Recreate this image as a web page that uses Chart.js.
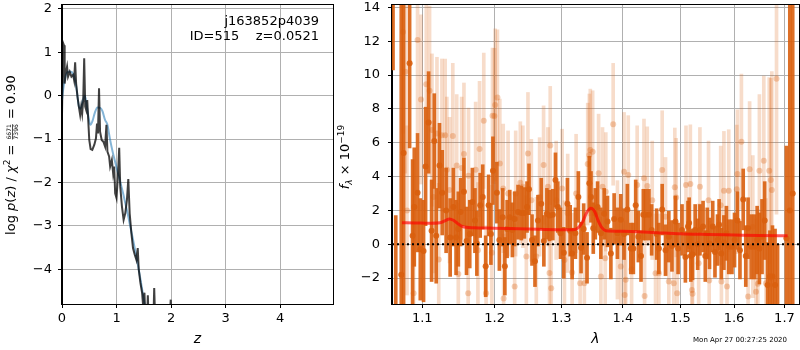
<!DOCTYPE html>
<html>
<head>
<meta charset="utf-8">
<script src="https://cdn.jsdelivr.net/npm/chart.js@4.4.0/dist/chart.umd.min.js"></script>
<style>
  body { margin: 0; background: #fff; }
  #wrap { position: relative; width: 800px; height: 350px; }
  #left { position: absolute; left: 0; top: 0; }
  #right { position: absolute; left: 330px; top: 0; }
</style>
</head>
<body>
<div id="wrap">
  <canvas id="left" width="340" height="350"></canvas>
  <canvas id="right" width="470" height="350"></canvas>
</div>
<script>
// ---- left panel: log p(z) ----
const zFit = [0.000, 0.019, 0.037, 0.049, 0.068, 0.093, 0.111, 0.142, 0.173, 0.204, 0.222, 0.241, 0.259, 0.284,
  0.309, 0.333, 0.352, 0.370, 0.389, 0.407, 0.426, 0.444, 0.463, 0.481, 0.500, 0.525, 0.556, 0.593, 0.623,
  0.642, 0.660, 0.679, 0.698, 0.728, 0.759, 0.790, 0.815, 0.833, 0.864, 0.883, 0.914, 0.938, 0.957, 0.975,
  1.000, 1.025, 1.049, 1.068, 1.099, 1.130, 1.160, 1.191, 1.216, 1.241, 1.272, 1.302, 1.333, 1.364, 1.389,
  1.407, 1.438, 1.469, 1.488, 1.512, 1.531, 1.556, 1.574, 1.593, 1.620, 1.660, 1.691, 1.716, 1.800, 1.900,
  1.994, 2.012, 2.100];
const pFit = [-0.44, 1.22, 1.16, 0.28, 0.51, 0.67, 0.44, 0.55, 0.44, 0.48, 0.36, 0.77, 0.28, -0.02,
  -0.25, -0.44, -0.25, -0.41, -0.10, 0.86, -0.25, -0.33, -0.10, -0.56, -1.02, -1.23, -1.25, -1.13, -0.98,
  -0.64, -0.87, 0.17, -0.83, -1.02, -1.06, -1.17, -0.67, -1.29, -1.40, -1.63, -1.48, -1.79, -1.63, -2.25,
  -2.36, -1.86, -1.20, -2.09, -2.55, -2.86, -2.71, -2.40, -1.92, -2.71, -3.16, -3.51, -3.66, -3.78, -3.51,
  -4.00, -4.31, -4.54, -4.85, -4.54, -5.20, -5.40, -4.60, -5.30, -6.00, -6.00, -4.43, -5.50, -7.00, -7.00,
  -4.70, -5.50, -8.00];
const zPrior = [0.00, 0.02, 0.06, 0.11, 0.16, 0.20, 0.24, 0.27, 0.31, 0.34, 0.38, 0.42, 0.45, 0.48, 0.52,
  0.56, 0.60, 0.65, 0.70, 0.74, 0.79, 0.83, 0.88, 0.93, 0.98, 1.03, 1.07, 1.12, 1.16, 1.21, 1.25, 1.30,
  1.35, 1.40, 1.44, 1.50, 1.55, 1.60];
const pPrior = [-0.10, 0.13, 0.42, 0.55, 0.55, 0.51, 0.35, 0.13, -0.25, -0.30, -0.12, 0.00, -0.20, -0.45,
  -0.67, -0.58, -0.40, -0.27, -0.28, -0.35, -0.56, -0.66, -1.00, -1.30, -1.55, -1.80, -2.00, -2.25, -2.47,
  -2.75, -3.00, -3.30, -3.62, -3.95, -4.24, -4.70, -5.10, -5.50];

// ---- right panel: spectrum ----
const lamData = [1.0620, 1.0655, 1.0726, 1.0756, 1.0834, 1.0873, 1.0895, 1.0938, 1.0974, 1.1017, 1.1044,
  1.1084, 1.1124, 1.1160, 1.1186, 1.1230, 1.1267, 1.1320, 1.1375, 1.1419, 1.1456, 1.1487, 1.1519, 1.1565,
  1.1601, 1.1646, 1.1683, 1.1719, 1.1746, 1.1793, 1.1829, 1.1871, 1.1913, 1.1946, 1.1975, 1.2032, 1.2068,
  1.2116, 1.2148, 1.2181, 1.2220, 1.2258, 1.2292, 1.2342, 1.2392, 1.2436, 1.2476, 1.2506, 1.2551, 1.2596,
  1.2641, 1.2691, 1.2731, 1.2777, 1.2818, 1.2869, 1.2910, 1.2946, 1.2987, 1.3040, 1.3097, 1.3140, 1.3171,
  1.3223, 1.3270, 1.3313, 1.3355, 1.3409, 1.3446, 1.3473, 1.3510, 1.3543, 1.3580, 1.3634, 1.3688, 1.3743,
  1.3799, 1.3853, 1.3908, 1.3964, 1.4019, 1.4075, 1.4133, 1.4177, 1.4217, 1.4262, 1.4308, 1.4348, 1.4388,
  1.4445, 1.4492, 1.4579, 1.4618, 1.4677, 1.4736, 1.4794, 1.4850, 1.4913, 1.4960, 1.5031, 1.5092, 1.5139,
  1.5160, 1.5190, 1.5222, 1.5270, 1.5316, 1.5358, 1.5416, 1.5457, 1.5494, 1.5536, 1.5596, 1.5638, 1.5686,
  1.5716, 1.5758, 1.5807, 1.5855, 1.5899, 1.5960, 1.6010, 1.6066, 1.6115, 1.6178, 1.6228, 1.6273, 1.6336,
  1.6399, 1.6451, 1.6496, 1.6548, 1.6601, 1.6659, 1.6705, 1.6757, 1.6809, 1.6860, 1.7040, 1.7110, 1.7170];
const fluxData = [20.0, -8.0, -1.8, 5.4, 10.7, 0.5, 2.2, 3.05, -0.3, -0.4, 4.6,
  7.2, 0.8, 6.1, 0.5, 4.65, 3.05, 2.0, 0.4, 2.2, 0.4, 0.9, 1.9, 3.1,
  0.2, 0.6, 2.5, 1.4, 0.05, 2.3, 2.8, -1.3, 2.3, 0.6, 4.35, 3.05, 0.25,
  1.6, -1.3, 0.9, 1.6, 0.85, 1.5, 1.9, 1.85, 1.85, 2.2, 3.25, 0.25, -1.0,
  1.4, 2.4, 0.2, 1.8, 1.7, 1.75, 3.8, 2.2, 0.65, -0.5, 2.4, 0.8, -0.55,
  0.65, 2.8, -0.2, 0.9, -0.8, 3.6, 2.8, 0.95, 1.8, 2.2, 0.65, 1.8, 1.35,
  -0.55, 1.5, 0.65, 1.45, 0.6, 2.05, -0.25, -0.25, 2.3, 0.45, -0.7, 1.75, 1.75,
  1.75, 0.85, 0.6, -0.25, 2.05, -0.35, 0.45, -0.1, 1.35, -0.25, 0.85, -0.75, 1.05,
  1.25, -0.7, -0.6, 0.85, 0.0, 0.85, 1.05, -0.7, 0.65, 0.05, 1.05, -0.45, 0.25,
  1.15, -0.55, 0.1, 0.65, -0.15, -0.15, 0.25, 1.4, -0.35, 2.65, -0.7, 0.95, -0.15,
  -0.15, 0.25, -0.25, 0.45, 1.4, -2.4, -1.9, -1.9, -2.4, -4.0, 0.35, 2.0, 3.0];
const errData = [9.7, 9.7, 16, 9, 5, 4.5, 3.5, 3.5, 3, 3, 3.5,
  3, 3, 2.8, 2.8, 2.5, 2.5, 2.5, 2.3, 2.3, 2.2, 2.2, 2, 2,
  2, 2, 2, 1.9, 1.9, 1.9, 1.9, 1.8, 1.8, 1.8, 2, 1.8, 1.8,
  1.7, 1.7, 1.7, 1.6, 1.6, 1.6, 1.6, 1.6, 1.5, 1.5, 1.5, 1.5, 1.5,
  1.5, 1.5, 1.5, 1.5, 1.5, 1.5, 1.6, 1.5, 1.5, 1.5, 1.5, 1.5, 1.5,
  1.5, 1.5, 1.5, 1.5, 1.5, 1.6, 1.5, 1.5, 1.5, 1.5, 1.5, 1.5, 1.5,
  1.5, 1.5, 1.5, 1.5, 1.5, 1.5, 1.5, 1.5, 1.5, 1.5, 1.5, 1.5, 1.5,
  1.5, 1.5, 1.5, 1.5, 1.5, 1.5, 1.5, 1.5, 1.5, 1.5, 1.5, 1.5, 1.5,
  1.5, 1.5, 1.5, 1.5, 1.5, 1.5, 1.5, 1.5, 1.5, 1.5, 1.5, 1.5, 1.5,
  1.5, 1.5, 1.6, 1.6, 1.6, 1.6, 1.6, 1.7, 1.7, 1.8, 1.8, 1.8, 1.9,
  1.9, 2, 2.1, 2.2, 2.3, 2.5, 2.7, 3, 3.3, 4, 5.45, 20, 20];

const lamFaint = [1.0748, 1.0778, 1.0800, 1.0886, 1.0938, 1.0983, 1.1053, 1.1097, 1.1129, 1.1150, 1.1196,
  1.1220, 1.1263, 1.1307, 1.1330, 1.1366, 1.1411, 1.1465, 1.1487, 1.1533, 1.1565, 1.1624, 1.1629, 1.1729,
  1.1761, 1.1784, 1.1844, 1.1877, 1.1960, 1.1969, 1.1997, 1.2007, 1.2040, 1.2075, 1.2124, 1.2130, 1.2195,
  1.2292, 1.2307, 1.2376, 1.2414, 1.2466, 1.2490, 1.2541, 1.2616, 1.2666, 1.2727, 1.2793, 1.2818, 1.2829,
  1.2844, 1.2921, 1.3014, 1.3050, 1.3101, 1.3171, 1.3234, 1.3298, 1.3366, 1.3420, 1.3446, 1.3462, 1.3500,
  1.3597, 1.3634, 1.3661, 1.3705, 1.3715, 1.3837, 1.3908, 1.3964, 1.4019, 1.4030, 1.4047, 1.4090, 1.4147,
  1.4242, 1.4359, 1.4370, 1.4416, 1.4502, 1.4560, 1.4618, 1.4677, 1.4736, 1.4794, 1.4883, 1.4901, 1.4925,
  1.4943, 1.5103, 1.5182, 1.5211, 1.5222, 1.5334, 1.5358, 1.5518, 1.5530, 1.5746, 1.5760, 1.5807, 1.5866,
  1.5899, 1.6053, 1.6066, 1.6143, 1.6273, 1.6303, 1.6366, 1.6429, 1.6465, 1.6496, 1.6583, 1.6626, 1.6692,
  1.6724, 1.6744, 1.6839];
const fluxFaint = [12.55, 10.2, 2.0, -2.9, 12.07, 8.56, 9.45, 9.07, 6.75, 2.8, 6.55,
  -0.9, 6.45, 6.45, 4.4, 3.2, 6.4, 4.65, -1.75, 4.5, 5.33, -2.9, 4.05, 4.4,
  -0.35, 5.63, 7.3, -2.9, -0.5, 7.6, 7.58, 8.23, 8.68, 4.78, 3.3, -3.2, 3.0,
  -2.5, 3.0, 3.64, 3.4, -0.73, 5.37, 2.6, -0.73, 2.8, 4.68, 3.4, -1.7, 5.83,
  -2.6, 2.6, 3.3, -0.93, 1.83, -1.67, 3.0, -2.3, -2.3, 4.74, 5.28, 5.57, 5.47,
  4.19, -1.9, 3.4, -0.83, 3.1, 7.09, 0.26, -1.32, 4.29, -3.0, -2.1, 4.1, -1.48,
  3.5, 3.9, -3.05, 3.44, 2.6, -1.71, -1.71, 4.39, 1.63, -2.2, -2.3, 3.37, 2.76,
  -2.9, 3.5, 3.56, -2.7, -2.93, -1.12, 3.4, 2.6, -2.14, 2.3, -2.2, 3.17, -2.5,
  3.17, 3.25, 4.15, 6.06, -3.09, 4.43, 1.04, -2.8, -2.34, 4.35, 4.94, -2.3, 4.35,
  3.8, 3.2, 9.78];
const errFaint = [6, 6, 5, 5, 5.5, 5, 5, 5, 4.5, 4.5, 4.5,
  4.5, 4.5, 4.5, 4.3, 4.3, 4.3, 4.2, 4.2, 4.2, 4.2, 4, 4, 4,
  4, 4, 4, 4, 4, 4, 4, 4.5, 4, 3.8, 3.8, 3.8, 3.7,
  3.7, 3.7, 3.6, 3.6, 3.6, 3.6, 3.6, 3.5, 3.5, 3.5, 3.5, 3.5, 3.5,
  3.5, 3.5, 3.5, 3.5, 3.5, 3.5, 3.5, 3.5, 3.5, 3.6, 3.6, 3.6, 3.6,
  3.5, 3.5, 3.5, 3.5, 3.5, 3.6, 3.5, 3.5, 3.5, 3.5, 3.5, 3.5, 3.5,
  3.5, 3.5, 3.5, 3.5, 3.5, 3.5, 3.5, 3.5, 3.5, 3.5, 3.5, 3.5, 3.5,
  3.5, 3.5, 3.5, 3.5, 3.5, 3.5, 3.5, 3.5, 3.5, 3.5, 3.5, 3.5, 3.6,
  3.6, 3.8, 3.8, 4, 4, 4, 4.2, 4.3, 4.4, 4.5, 5, 5, 5.5,
  6, 7, 8];

const lamModel = [1.0734, 1.0900, 1.1100, 1.1240, 1.1310, 1.1366, 1.1420, 1.1480, 1.1540, 1.1600, 1.1700,
  1.2000, 1.2500, 1.3000, 1.3180, 1.3260, 1.3340, 1.3400, 1.3473, 1.3530, 1.3590, 1.3650, 1.3715, 1.4000,
  1.4500, 1.5000, 1.5500, 1.6000, 1.6500, 1.7065];
const fluxModel = [1.27, 1.26, 1.24, 1.27, 1.40, 1.50, 1.42, 1.22, 1.06, 1.00, 0.98,
  0.95, 0.90, 0.86, 0.86, 0.95, 1.35, 1.85, 2.13, 1.95, 1.40, 0.98, 0.80, 0.77,
  0.70, 0.62, 0.58, 0.55, 0.52, 0.50];

const lamTicks = [1.1, 1.2, 1.3, 1.4, 1.5, 1.6, 1.7];
const lamRange = [1.0607, 1.7300];

Chart.defaults.font.family = "'DejaVu Sans', sans-serif";
Chart.defaults.font.size = 13;
Chart.defaults.color = "#000";

function minusLabel(v) {
  return v < 0 ? "\u2212" + Math.abs(v) : "" + v;
}

function noPad(s) {
  s.paddingLeft = 0; s.paddingRight = 0; s.paddingTop = 0; s.paddingBottom = 0;
}

const frame = {
  id: "frame",
  afterDraw(chart) {
    const { ctx, chartArea: a } = chart;
    ctx.save();
    ctx.strokeStyle = "#000";
    ctx.lineWidth = 1;
    const l = Math.round(a.left) - 0.5, t = Math.round(a.top) - 0.5;
    ctx.strokeRect(l, t, Math.round(a.right) - Math.round(a.left) + 1, Math.round(a.bottom) - Math.round(a.top) + 1);
    ctx.restore();
  }
};

// rotated axis label made of runs with different fonts / offsets
function drawRotated(ctx, parts, cx, cy) {
  let total = 0;
  parts.forEach((p) => {
    ctx.font = p.font;
    if (p.frac) {
      p.w = Math.max(ctx.measureText(p.frac[0]).width, ctx.measureText(p.frac[1]).width) + 2;
    } else {
      p.w = ctx.measureText(p.t).width;
    }
    total += p.w;
  });
  ctx.save();
  ctx.translate(cx, cy);
  ctx.rotate(-Math.PI / 2);
  ctx.fillStyle = "#000";
  ctx.textBaseline = "alphabetic";
  let x = -total / 2;
  parts.forEach((p) => {
    ctx.font = p.font;
    if (p.frac) {
      ctx.textAlign = "center";
      ctx.fillText(p.frac[0], x + p.w / 2, -3.2);
      ctx.fillText(p.frac[1], x + p.w / 2, 3.6);
      ctx.fillRect(x + 1, -2.4, p.w - 2, 0.7);
      ctx.textAlign = "left";
    } else {
      ctx.textAlign = "left";
      ctx.fillText(p.t, x, p.dy || 0);
    }
    x += p.w;
  });
  ctx.restore();
}

const F = "'DejaVu Sans', sans-serif";
const leftLabels = {
  id: "leftLabels",
  afterDraw(chart) {
    const ctx = chart.ctx;
    drawRotated(ctx, [
      { t: "log ", font: "13px " + F },
      { t: "p", font: "italic 13px " + F },
      { t: "(", font: "13px " + F },
      { t: "z", font: "italic 13px " + F },
      { t: ") / ", font: "13px " + F },
      { t: "\u03c7", font: "italic 13px " + F },
      { t: "2", font: "9px " + F, dy: -5 },
      { t: " = ", font: "13px " + F },
      { frac: ["6671", "7396"], font: "6px " + F },
      { t: " = 0.90", font: "13px " + F }
    ], 14.5, 155);
    ctx.save();
    ctx.font = "13px " + F;
    ctx.fillStyle = "#000";
    ctx.textAlign = "right";
    ctx.textBaseline = "middle";
    ctx.fillText("j163852p4039", 319, 22);
    ctx.fillText("ID=515    z=0.0521", 319, 37);
    ctx.restore();
  }
};

const rightLabels = {
  id: "rightLabels",
  afterDraw(chart) {
    const ctx = chart.ctx;
    drawRotated(ctx, [
      { t: "f", font: "italic 13px " + F },
      { t: "\u03bb", font: "italic 9px " + F, dy: 3 },
      { t: " \u00d7 10", font: "13px " + F },
      { t: "\u221219", font: "9px " + F, dy: -5 }
    ], 18.5, 157);
    ctx.save();
    ctx.font = "7px " + F;
    ctx.fillStyle = "#000";
    ctx.textAlign = "right";
    ctx.textBaseline = "middle";
    ctx.fillText("Mon Apr 27 00:27:25 2020", 457, 340);
    ctx.restore();
  }
};

const gridOpts = { color: "#b0b0b0", lineWidth: 1, tickColor: "#000", tickLength: 4 };

new Chart(document.getElementById("left"), {
  type: "line",
  data: {
    datasets: [
      {
        data: zFit.map((z, i) => ({ x: z, y: pFit[i] })),
        borderColor: "rgba(0,0,0,0.75)",
        borderWidth: 2,
        pointRadius: 0,
        tension: 0,
        order: 0
      },
      {
        data: zPrior.map((z, i) => ({ x: z, y: pPrior[i] })),
        borderColor: "rgba(31,119,180,0.55)",
        borderWidth: 2,
        pointRadius: 0,
        cubicInterpolationMode: "monotone",
        order: 1
      }
    ]
  },
  options: {
    responsive: false,
    animation: false,
    devicePixelRatio: 1,
    layout: { padding: { top: 5, right: 7, left: 0, bottom: 0 }, autoPadding: false },
    plugins: { legend: { display: false }, tooltip: { enabled: false } },
    scales: {
      x: {
        type: "linear", min: 0, max: 4.97,
        ticks: { stepSize: 1, includeBounds: false, padding: 3, maxRotation: 0 },
        grid: gridOpts,
        border: { color: "#000" },
        title: { display: true, text: "z", font: { size: 14, style: "italic" }, padding: { top: 0, bottom: 2 } },
        afterFit(s) { s.height = 46; noPad(s); }
      },
      y: {
        min: -4.80, max: 2.09,
        ticks: { stepSize: 1, includeBounds: false, padding: 6, callback: minusLabel },
        grid: gridOpts,
        border: { color: "#000" },
        afterFit(s) { s.width = 62; noPad(s); }
      }
    }
  },
  plugins: [frame, leftLabels]
});

const dark = "rgba(217,95,14,0.9)";
new Chart(document.getElementById("right"), {
  type: "bar",
  data: {
    datasets: [
      {
        type: "line",
        data: lamRange.map((l) => ({ x: l, y: 0 })),
        borderColor: "#000",
        borderWidth: 2,
        borderDash: [2, 3],
        pointRadius: 0,
        order: 0
      },
      {
        type: "line",
        data: lamModel.map((l, i) => ({ x: l, y: fluxModel[i] })),
        borderColor: "rgba(255,0,0,0.65)",
        borderWidth: 3,
        pointRadius: 0,
        cubicInterpolationMode: "monotone",
        order: 1
      },
      {
        type: "scatter",
        data: lamData.map((l, i) => ({ x: l, y: fluxData[i] })),
        backgroundColor: dark,
        borderWidth: 0,
        pointRadius: 3,
        clip: 0,
        order: 2
      },
      {
        data: lamData.map((l, i) => ({ x: l, y: [fluxData[i] - errData[i], fluxData[i] + errData[i]] })),
        backgroundColor: dark,
        barThickness: 3,
        stack: "err",
        clip: 0,
        order: 3
      },
      {
        type: "scatter",
        data: lamFaint.map((l, i) => ({ x: l, y: fluxFaint[i] })),
        backgroundColor: "rgba(217,95,14,0.3)",
        borderWidth: 0,
        pointRadius: 3,
        clip: 0,
        order: 4
      },
      {
        data: lamFaint.map((l, i) => ({ x: l, y: [fluxFaint[i] - errFaint[i], fluxFaint[i] + errFaint[i]] })),
        backgroundColor: "rgba(217,95,14,0.22)",
        barThickness: 3,
        stack: "err",
        clip: 0,
        order: 5
      }
    ]
  },
  options: {
    responsive: false,
    animation: false,
    devicePixelRatio: 1,
    layout: { padding: { top: 5, right: 1, left: 0, bottom: 0 }, autoPadding: false },
    plugins: { legend: { display: false }, tooltip: { enabled: false } },
    scales: {
      x: {
        type: "logarithmic", min: lamRange[0], max: lamRange[1],
        offset: false,
        afterBuildTicks(s) { s.ticks = lamTicks.map((v) => ({ value: v })); },
        ticks: { padding: 3, maxRotation: 0, autoSkip: false, callback: (v) => Number(v).toFixed(1) },
        grid: Object.assign({ offset: false }, gridOpts),
        border: { color: "#000" },
        title: { display: true, text: "\u03bb", font: { size: 14, style: "italic" }, padding: { top: 0, bottom: 2 } },
        afterFit(s) { s.height = 46; noPad(s); }
      },
      y: {
        type: "linear", min: -3.53, max: 14.14, stacked: false,
        ticks: { stepSize: 2, includeBounds: false, padding: 8, callback: minusLabel },
        grid: gridOpts,
        border: { color: "#000" },
        afterFit(s) { s.width = 62; noPad(s); }
      }
    }
  },
  plugins: [frame, rightLabels]
});
</script>
</body>
</html>
